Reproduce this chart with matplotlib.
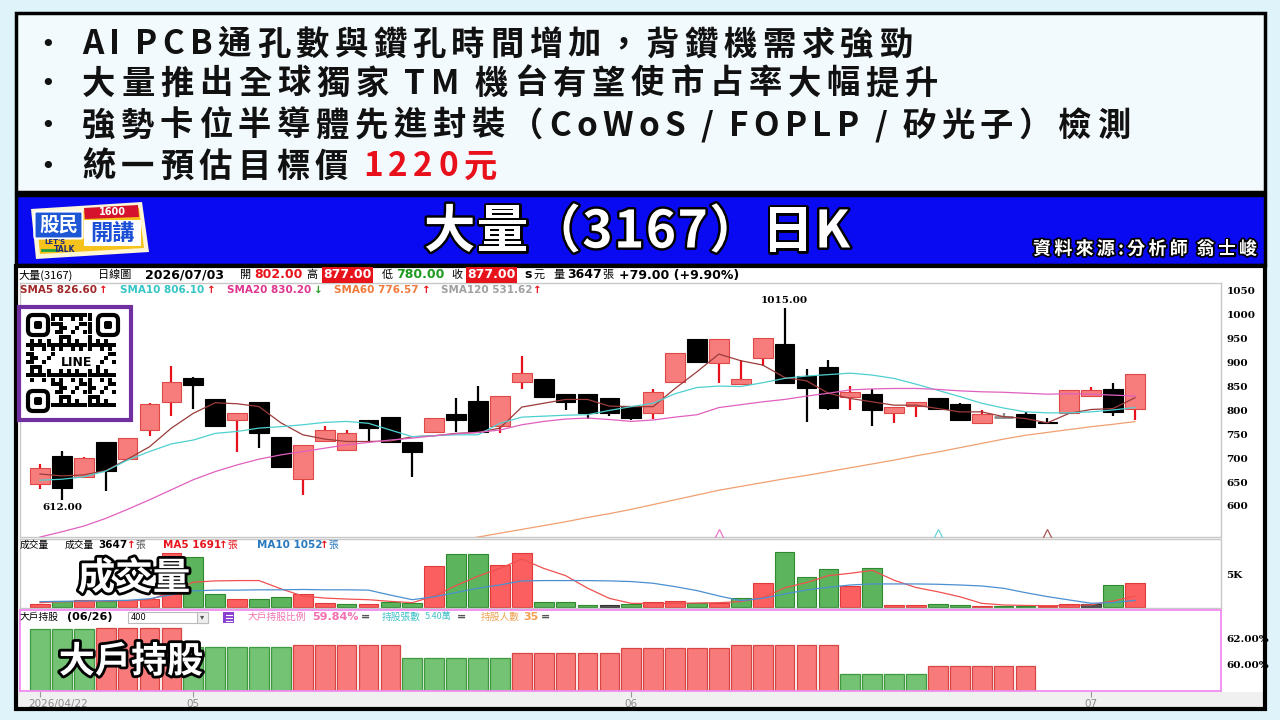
import numpy as np
import matplotlib
matplotlib.use('Agg')
import matplotlib.pyplot as plt
import matplotlib.patheffects as pe
from matplotlib.patches import Rectangle, FancyBboxPatch, Polygon
from matplotlib.transforms import ScaledTranslation

plt.rcParams['font.family'] = ['DejaVu Sans', 'Noto Sans CJK TC']
CJK = ['Noto Sans CJK TC', 'DejaVu Sans']
SERIF = ['DejaVu Serif', 'Noto Sans CJK TC']

# ---------------- data ----------------
bullet_lines = [
    [('AI PCB通孔數與鑽孔時間增加，背鑽機需求強勁', '#111111')],
    [('大量推出全球獨家 TM 機台有望使市占率大幅提升', '#111111')],
    [('強勢卡位半導體先進封裝（CoWoS / FOPLP / 矽光子）檢測', '#111111')],
    [('統一預估目標價 ', '#111111'), ('1220元', '#e8101a')],
]
title = '大量（3167）日K'
source_note = '資料來源:分析師 翁士峻'

# daily candles 2026/04/22 .. 2026/07/03
opens = [645, 705, 661, 733, 698, 760, 818, 867, 823, 781, 818, 745, 656, 736, 717, 781, 786, 733, 755, 792,
         820, 767, 860, 865, 834, 834, 827, 809, 795, 859, 949, 899, 855, 909, 939, 872, 890, 829, 834, 794,
         809, 827, 814, 773, 786, 792, 776, 795, 830, 844, 802]
highs = [688, 715, 702, 733, 742, 816, 893, 869, 823, 794, 818, 745, 728, 768, 758, 781, 786, 733, 784, 827,
         851, 830, 914, 865, 834, 834, 827, 809, 844, 920, 949, 949, 906, 951, 1015, 886, 906, 851, 844, 807,
         818, 827, 816, 800, 795, 797, 784, 843, 850, 858, 877]
lows = [636, 612, 658, 632, 698, 746, 789, 804, 768, 712, 722, 682, 623, 736, 717, 737, 733, 661, 755, 754,
        754, 753, 844, 825, 801, 783, 789, 781, 783, 859, 901, 857, 855, 893, 857, 776, 801, 801, 767, 773,
        787, 804, 780, 773, 783, 765, 773, 795, 830, 788, 780]
closes = [679, 637, 701, 673, 742, 813, 860, 853, 768, 794, 753, 682, 728, 759, 752, 764, 733, 712, 784, 779,
          754, 830, 878, 829, 818, 794, 794, 785, 839, 920, 901, 949, 865, 951, 857, 846, 806, 839, 800, 807,
          818, 804, 780, 792, 786, 765, 774, 843, 843, 797, 877]

sma5 = [667, 663, 665, 674, 698, 724, 763, 794, 816, 814, 808, 774, 749, 740, 735, 735, 736, 745, 747, 752,
        754, 763, 807, 815, 823, 823, 809, 808, 808, 846, 881, 918, 904, 895, 869, 862, 836, 825, 818, 811,
        811, 804, 797, 797, 787, 783, 774, 794, 802, 804, 826.6]
sma10 = [654, 656, 661, 673, 696, 714, 730, 738, 752, 756, 763, 766, 770, 775, 777, 773, 759, 745, 747, 749,
         749, 773, 786, 788, 790, 791, 800, 808, 815, 835, 848, 851, 850, 858, 867, 872, 875, 878, 874, 867,
         855, 842, 829, 815, 805, 797, 795, 795, 797, 801, 806.1]
sma20 = [535, 546, 558, 574, 593, 613, 634, 655, 672, 686, 698, 707, 714, 721, 728, 733, 738, 742, 747, 751,
         754, 759, 770, 777, 782, 784, 781, 777, 780, 786, 791, 806, 812, 818, 823, 830, 836, 843, 845, 846,
         846, 844, 841, 839, 838, 836, 834, 835, 834, 832, 830.2]
sma60_start = 19
sma60 = [527, 535, 543, 551, 559, 567, 576, 584, 593, 603, 613, 623, 633, 641, 649, 657, 664, 672, 680, 688,
         696, 705, 713, 722, 731, 740, 748, 754, 760, 766, 771, 776.57]
cross_marks = [(31, '#e87ac8'), (41, '#6ad6d6'), (46, '#a85a5a')]

volume = [505, 960, 1060, 960, 1110, 1260, 8180, 7680, 2020, 1260, 1310, 1620, 2020, 710, 505, 555, 760, 610,
          6260, 8030, 8030, 6410, 8180, 810, 810, 400, 400, 505, 760, 910, 660, 660, 1360, 3740, 8380, 4650,
          5760, 3230, 5910, 400, 300, 505, 350, 200, 150, 150, 250, 505, 505, 3380, 3647]
vol_dir = ['r', 'g', 'r', 'g', 'r', 'r', 'r', 'g', 'g', 'r', 'g', 'g', 'r', 'r', 'g', 'r', 'g', 'g', 'r', 'g',
           'g', 'r', 'r', 'g', 'g', 'g', 'k', 'g', 'r', 'r', 'g', 'r', 'g', 'r', 'g', 'g', 'g', 'r', 'g', 'r',
           'r', 'g', 'g', 'r', 'g', 'g', 'r', 'r', 'k', 'g', 'r']
vol_ma5 = [700, 850, 880, 950, 1000, 1100, 2400, 3800, 4000, 4050, 4050, 2800, 1700, 1400, 1250, 1150, 900, 700,
           1700, 3300, 4700, 5900, 7300, 5900, 4800, 2900, 1350, 600, 570, 600, 650, 700, 870, 1450, 2950, 3750,
           4800, 5150, 5600, 4100, 3000, 2350, 1600, 600, 350, 280, 250, 270, 380, 950, 1691]
vol_ma10 = [860, 900, 950, 1000, 1050, 1300, 1900, 2500, 2600, 2600, 2650, 2650, 2700, 2650, 2650, 2600, 1850,
            1150, 1600, 2240, 2900, 3390, 4000, 4050, 4050, 4050, 4000, 3900, 3640, 3130, 2530, 1720, 1010, 1360,
            2020, 2630, 3030, 3380, 3540, 3540, 3540, 3490, 3380, 3230, 2880, 2220, 1620, 1110, 610, 710, 1052]

holder_pct = [62.75, 62.80, 61.35, 61.48, 60.48, 60.90, 61.23, 61.48, 59.25, 59.84]
holder_days = [3, 4, 5, 5, 5, 5, 5, 5, 4, 5]

date_ticks = [0, 7, 27, 48]
date_labels = ['2026/04/22', '05', '06', '07']
price_ticks = [600, 650, 700, 750, 800, 850, 900, 950, 1000, 1050]

# ---------------- layout helpers ----------------
W, H = 1280, 720
fig = plt.figure(figsize=(12.8, 7.2), dpi=100)
fig.patch.set_facecolor('#dff3fb')


def pix_axes(x0, y0, x1, y1, z):
    return fig.add_axes([x0 / W, 1 - y1 / H, (x1 - x0) / W, (y1 - y0) / H], zorder=z)


bg = pix_axes(0, 0, W, H, 0)
ov = pix_axes(0, 0, W, H, 5)
for a in (bg, ov):
    a.set_xlim(0, W)
    a.set_ylim(H, 0)
    a.axis('off')

rend = fig.canvas.get_renderer()


def fit_text(ax, x0, x1, y, segments, size, stroke=None, space=0.12, **kw):
    # lay the characters out one by one so the line spans x0..x1 (letter-spaced)
    arts, widths = [], []
    for s, col in segments:
        for ch in s:
            if ch == ' ':
                arts.append(None)
                widths.append(size * 100 / 72 * space)
                continue
            t = ax.text(0, y, ch, fontsize=size, color=col, ha='left', va='center', **kw)
            if stroke:
                t.set_path_effects([pe.withStroke(linewidth=stroke, foreground='black')])
            arts.append(t)
            widths.append(t.get_window_extent(rend).width)
    gap = (x1 - x0 - sum(widths)) / (len(widths) - 1)
    x = x0
    for t, w in zip(arts, widths):
        if t is not None:
            t.set_x(x)
        x += w + gap


def put(x, y, s, color='black', size=8, bold=False, family=CJK, box=None):
    ov.text(x, y, s, color=color, fontsize=size, fontweight='bold' if bold else 'normal',
            family=family, ha='left', va='center', bbox=box)


# ---------------- frames ----------------
bg.add_patch(Rectangle((16, 13), 1249, 179, fc='#f2fafd', ec='black', lw=2.5))
bg.add_patch(Rectangle((16, 195), 1249, 70, fc='#0a0af2', ec='black', lw=2.5))
bg.add_patch(Rectangle((16, 266), 1249, 443, fc='white', ec='none'))
bg.add_patch(Rectangle((18, 692), 1245, 16, fc='#f0f0f0', ec='none'))
ov.add_patch(Rectangle((16, 266), 1249, 443, fc='none', ec='black', lw=3))

# bullets
bullet_y = [45, 84, 126, 167]
bullet_end = [912, 938, 1130, 497]
for segs, y, xe in zip(bullet_lines, bullet_y, bullet_end):
    bg.text(48, y, '•', fontsize=18, color='#111111', ha='center', va='center')
    fit_text(bg, 82, xe, y, segs, 24, family=CJK, fontweight='bold')

# title bar
fit_text(ov, 424, 850, 232, [(title, 'white')], 37, stroke=3.5, family=CJK, fontweight='bold')
fit_text(ov, 1033, 1257, 249, [(source_note, 'white')], 13, stroke=2.5, family=CJK, fontweight='bold')

# logo
bg.add_patch(Polygon([(31, 209), (142, 202), (149, 252), (36, 259)], fc='#fff6d8', ec='none'))
bg.add_patch(Polygon([(36, 214), (139, 208), (144, 248), (40, 254)], fc='#f6c21c', ec='none'))
bg.add_patch(FancyBboxPatch((36, 213), 45, 24, boxstyle='round,pad=1.5', fc='#1d57d6', ec='white', lw=1.5))
bg.text(58.5, 225, '股民', fontsize=14, color='white', fontweight='bold', family=CJK, ha='center', va='center')
bg.add_patch(Polygon([(84, 208), (138, 205), (139, 217), (85, 219)], fc='#d5132c', ec='none'))
bg.text(112, 212, '1600', fontsize=7, color='white', fontweight='bold', ha='center', va='center')
bg.add_patch(Rectangle((84, 220), 57, 26, fc='white', ec='none'))
bg.text(112.5, 233, '開講', fontsize=16, color='#1c4fd6', fontweight='bold', family=CJK, ha='center', va='center')
bg.text(55, 242, "LET'S", fontsize=5, color='#1a2a7a', fontweight='bold', ha='center', va='center')
bg.text(65, 250, 'TALK', fontsize=5.5, color='#1a2a7a', fontweight='bold', ha='center', va='center')
bg.plot([42, 56], [250, 250], color='#20a040', lw=2)

# ---------------- chart panels ----------------
n = len(closes)
xi = np.arange(n)
x_left, x_right = (20 - 40) / 21.9, (1221 - 40) / 21.9

axp = pix_axes(20, 283, 1221, 537, 1)
axv = pix_axes(20, 539, 1221, 608, 1)
axh = pix_axes(20, 610, 1221, 691, 1)
for a in (axp, axv, axh):
    a.set_xlim(x_left, x_right)
    a.set_xticks([])
    a.yaxis.tick_right()
    a.tick_params(axis='y', length=0, pad=4, labelsize=7.5)
    for s in a.spines.values():
        s.set_color('#c8c8c8')
        s.set_linewidth(1)
for s in axh.spines.values():
    s.set_color('#f08cf0')
    s.set_linewidth(1.3)

# candles
o, h, l, c = map(np.array, (opens, highs, lows, closes))
up, fl = c > o, c == o
face = np.where(up, '#f77c7c', '#000000')
edge = np.where(up, '#e04848', '#000000')
wick = np.where(up, '#e5121c', np.where(fl, '#8a8a8a', '#000000'))
axp.vlines(xi, l, h, colors=wick, lw=1.6, zorder=2)
axp.bar(xi[~fl], np.abs(c - o)[~fl], bottom=np.minimum(o, c)[~fl], width=0.9,
        color=face[~fl], edgecolor=edge[~fl], lw=0.8, zorder=3)
axp.hlines(c[fl], xi[fl] - 0.45, xi[fl] + 0.45, colors='#8a8a8a', lw=2, zorder=3)

axp.plot(xi, sma5, color='#9b3b3b', lw=0.9, zorder=4)
axp.plot(xi, sma10, color='#4fd0d0', lw=0.9, zorder=4)
axp.plot(xi, sma20, color='#e060c0', lw=0.9, zorder=4)
axp.plot(np.arange(sma60_start, sma60_start + len(sma60)), sma60, color='#f0a070', lw=0.9, zorder=4)
for i, col in cross_marks:
    axp.plot(i, 535.1, marker='^', ms=11, mfc='none', mec=col, mew=0.9, zorder=5)

imax, imin = int(np.argmax(h)), int(np.argmin(l))
axp.annotate(f'{h[imax]:.2f}', (imax, h[imax]), xytext=(0, 2), textcoords='offset points',
             ha='center', va='bottom', fontsize=7.5, fontweight='bold', family=SERIF)
axp.annotate(f'{l[imin]:.2f}', (imin, l[imin]), xytext=(0, -2), textcoords='offset points',
             ha='center', va='top', fontsize=7.5, fontweight='bold', family=SERIF)
axp.set_ylim(535.1, 1066.7)
axp.set_yticks(price_ticks)

# volume
vface = {'r': '#fb5f5f', 'g': '#5cb55c', 'k': '#555555'}
vedge = {'r': '#e03a3a', 'g': '#2f8a2f', 'k': '#333333'}
axv.bar(xi, volume, width=0.9, color=[vface[d] for d in vol_dir],
        edgecolor=[vedge[d] for d in vol_dir], lw=0.8)
axv.plot(xi, vol_ma5, color='#f05050', lw=0.9)
axv.plot(xi, vol_ma10, color='#4a90d0', lw=0.9)
axv.set_ylim(-106, 10348)
axv.set_yticks([5000], ['5K'])

# big holders
pct_daily = np.repeat(holder_pct, holder_days)
wk_col = ['g'] + ['r' if holder_pct[k] > holder_pct[k - 1] else 'g' for k in range(1, len(holder_pct))]
day_col = np.repeat(wk_col, holder_days)
hface = {'r': '#f97a7a', 'g': '#74c274'}
hedge = {'r': '#d84545', 'g': '#3f9a3f'}
axh.bar(np.arange(len(pct_daily)), pct_daily, width=0.9, color=[hface[d] for d in day_col],
        edgecolor=[hedge[d] for d in day_col], lw=0.9)
axh.set_ylim(57.95, 64.18)
axh.set_yticks([60, 62], ['60.00%', '62.00%'])
axh.set_xticks(date_ticks, date_labels)
axh.tick_params(axis='x', length=4, color='#999999', labelcolor='#8a8a8a', labelsize=7.5, pad=2)
lbl0 = axh.get_xticklabels()[0]
lbl0.set_ha('left')
lbl0.set_transform(lbl0.get_transform() + ScaledTranslation(-12 / 100, 0, fig.dpi_scale_trans))

for a in (axp, axv, axh):
    for t in a.get_yticklabels():
        t.set_fontfamily(SERIF)
        t.set_fontweight('bold')

# ---------------- header rows ----------------
red, green = '#e8141c', '#1e9a1e'
redbox = dict(boxstyle='square,pad=0.1', fc=red, ec='none')
y1 = 275
put(18, y1, '大量(3167)', size=8)
put(98, y1, '日線圖', size=8)
put(145, y1, '2026/07/03', bold=True, size=9, family='DejaVu Sans')
put(240, y1, '開', size=8)
put(254, y1, '802.00', red, 9, True, 'DejaVu Sans')
put(306, y1, '高', size=8)
put(323, y1, '877.00', 'white', 9, True, 'DejaVu Sans', redbox)
put(382, y1, '低', size=8)
put(396, y1, '780.00', green, 9, True, 'DejaVu Sans')
put(451, y1, '收', size=8)
put(467, y1, '877.00', 'white', 9, True, 'DejaVu Sans', redbox)
put(524, y1, 's', size=9, bold=True, family='DejaVu Sans')
put(533, y1, '元', size=8)
put(553, y1, '量', size=8)
put(567, y1, '3647', size=9, bold=True, family='DejaVu Sans')
put(602, y1, '張', size=8)
put(619, y1, '+79.00 (+9.90%)', size=9, bold=True, family='DejaVu Sans')

y2 = 290
sma_legend = [(20, 'SMA5 826.60', '#a02828', 99, '↑', red),
              (120, 'SMA10 806.10', '#35c5c5', 207, '↑', red),
              (227, 'SMA20 830.20', '#e0358f', 314, '↓', green),
              (334, 'SMA60 776.57', '#f07a3a', 422, '↑', red),
              (441, 'SMA120 531.62', '#a0a0a0', 533, '↑', red)]
for x, s, col, xa, arr, acol in sma_legend:
    put(x, y2, s, col, 7.5, True, 'DejaVu Sans')
    put(xa, y2, arr, acol, 7.5, True, 'DejaVu Sans')

y3 = 545
put(20, y3, '成交量', size=7)
put(65, y3, '成交量', size=7)
put(98, y3, '3647', size=7.5, bold=True, family='DejaVu Sans')
put(127, y3, '↑', red, 7.5, True, 'DejaVu Sans')
put(135, y3, '張', '#555555', 7)
put(163, y3, 'MA5 1691', red, 7.5, True, 'DejaVu Sans')
put(219, y3, '↑', red, 7.5, True, 'DejaVu Sans')
put(227, y3, '張', red, 7)
put(257, y3, 'MA10 1052', '#2878c0', 7.5, True, 'DejaVu Sans')
put(320, y3, '↑', red, 7.5, True, 'DejaVu Sans')
put(328, y3, '張', '#2878c0', 7)

y4 = 617
put(20, y4, '大戶持股', size=7)
put(67, y4, '(06/26)', size=8, bold=True, family='DejaVu Sans')
ov.add_patch(Rectangle((128, 612), 80, 11, fc='white', ec='#bbbbbb', lw=0.8))
put(131, y4, '400', size=6, family='DejaVu Sans')
ov.add_patch(Rectangle((197, 612), 11, 11, fc='#eeeeee', ec='#bbbbbb', lw=0.8))
ov.text(202.5, y4, '▾', fontsize=6, color='#555555', ha='center', va='center')
ov.add_patch(Rectangle((223, 612), 11, 11, fc='#8a3fd0', ec='none'))
for yy in (614.5, 617.5, 620.5):
    ov.plot([226, 232], [yy, yy], color='white', lw=0.8)
put(248, y4, '大戶持股比例', '#f070b0', 7)
put(312, y4, '59.84%', '#f070b0', 8, True, 'DejaVu Sans')
put(361, y4, '=', '#555555', 8, True, 'DejaVu Sans')
put(382, y4, '持股張數', '#40c0c8', 7)
put(425, y4, '5.40萬', '#40c0c8', 6.5)
put(457, y4, '=', '#555555', 8, True, 'DejaVu Sans')
put(481, y4, '持股人數', '#f0a050', 7)
put(523, y4, '35', '#f0a050', 8, True, 'DejaVu Sans')
put(541, y4, '=', '#555555', 8, True, 'DejaVu Sans')

# big overlay labels
for x, y, s, sz in [(134, 578, '成交量', 27), (131, 662, '大戶持股', 26)]:
    t = ov.text(x, y, s, fontsize=sz, color='white', fontweight='bold', family=CJK, ha='center', va='center')
    t.set_path_effects([pe.withStroke(linewidth=4, foreground='black')])

# LINE QR badge
ov.add_patch(Rectangle((19, 307), 112, 113, fc='white', ec='#7030a0', lw=3))
cells = []
for i in range(22):
    for j in range(22):
        px, py = 28 + i * 4.1, 315 + j * 4.3
        if (i < 6 and j < 6) or (i > 15 and j < 6) or (i < 6 and j > 15):
            continue
        if 7 <= i <= 16 and 9 <= j <= 12:
            continue
        if (i * 7 + j * 11 + i * j * 3) % 7 < 3:
            cells.append((px, py))
cells = np.array(cells)
ov.scatter(cells[:, 0], cells[:, 1], s=5, marker='s', c='black', lw=0)
for fx, fy in [(28, 315), (98, 315), (28, 391)]:
    ov.add_patch(FancyBboxPatch((fx, fy), 20, 20, boxstyle='round,pad=0,rounding_size=5',
                                fc='white', ec='black', lw=3))
    ov.add_patch(FancyBboxPatch((fx + 6, fy + 6), 8, 8, boxstyle='round,pad=0,rounding_size=2',
                                fc='black', ec='black', lw=0))
ov.text(77, 363, 'LINE', fontsize=9, fontweight='bold', color='black', ha='center', va='center')

fig.savefig('out.png', dpi=100, facecolor=fig.get_facecolor())
